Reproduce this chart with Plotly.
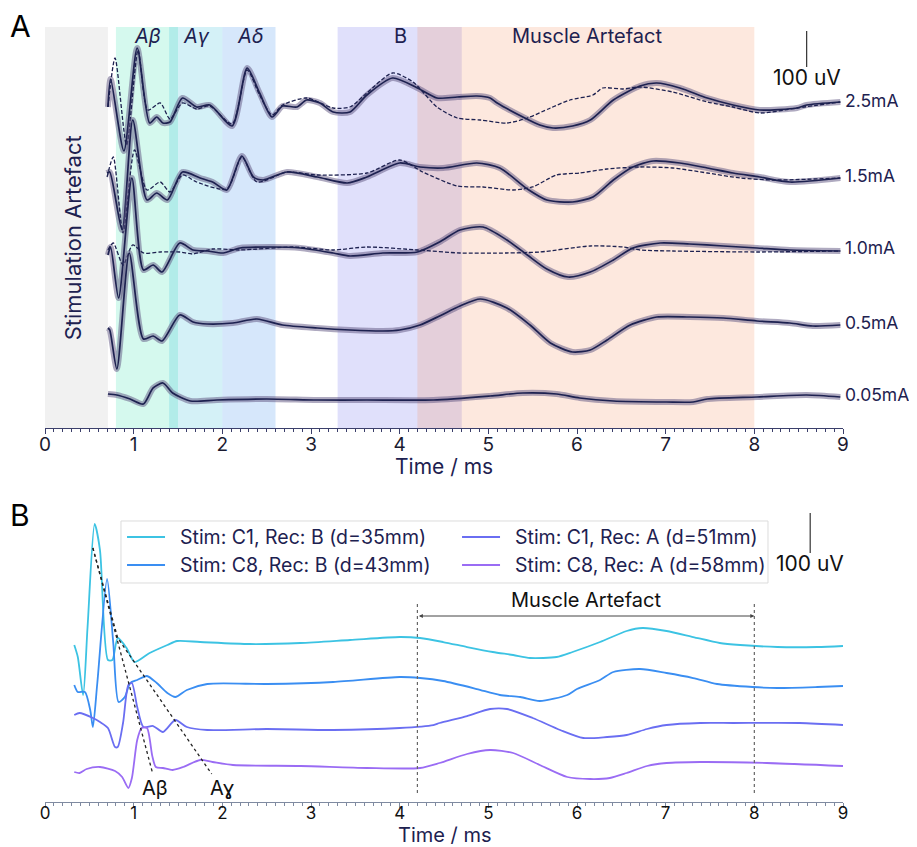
import plotly.graph_objects as go

# ---------------------------------------------------------
# Panel A data  (time in ms, amplitude in display units, 36 units = 100 uV)
# ---------------------------------------------------------
t_25 = [0.71, 0.74, 0.89, 1.04, 1.18, 1.26, 1.33, 1.41, 1.55, 1.71, 1.86, 2.11, 2.28, 2.42, 2.56, 2.68,
        2.84, 2.95, 3.10, 3.25, 3.44, 3.63, 3.92, 4.20, 4.42, 4.65, 4.87, 5.02, 5.10, 5.39, 5.58, 5.73,
        5.95, 6.15, 6.41, 6.71, 6.90, 7.16, 7.47, 7.76, 8.06, 8.48, 8.59, 8.97]
a_25 = [-5, 23, -49, 54, -21, -15, -21, -20, 4, -5, -3, -24, 34, 9, -15, -4,
        -5, 2, -1, -10, -10, 7, 24, 14, 4, 5, 6, 4, -1, -15, -23, -26,
        -24, -18, 2, 16, 19, 14, 4, -3, -8, -6, -3, 0]
t_25d = [0.71, 0.79, 0.92, 1.05, 1.16, 1.30, 1.41, 1.55, 1.71, 1.86, 2.11, 2.28, 2.42, 2.56, 2.68, 2.95,
         3.25, 3.44, 3.63, 3.92, 4.15, 4.42, 4.65, 4.91, 5.21, 5.44, 5.70, 5.92, 6.18, 6.29, 6.52, 6.71,
         7.08, 7.47, 7.76, 8.06, 8.48, 8.97]
a_25d = [-5, 44, -43, 52, -8, -1, -17, -1, -7, -4, -22, 32, 7, -13, -3, 4,
         -6, -5, 9, 29, 20, -5, -16, -18, -21, -16, -6, 2, 7, 14, 13, 15,
         10, 0, -5, -11, -6, 0]

t_15 = [0.70, 0.73, 0.87, 0.99, 1.15, 1.26, 1.38, 1.55, 1.75, 1.89, 2.05, 2.22, 2.35, 2.46, 2.73, 3.07,
        3.41, 3.63, 4.00, 4.23, 4.49, 4.87, 5.13, 5.44, 5.66, 5.95, 6.18, 6.41, 6.63, 6.86, 7.16, 7.47,
        7.76, 8.06, 8.40, 8.97]
a_15 = [5, 6, -52, 58, -22, -15, -22, 6, 0, -4, -12, 22, 1, -2, 6, 1,
        -5, 1, 15, 11, 10, 15, 10, -11, -22, -24, -19, -2, 11, 17, 15, 10,
        5, 1, -4, 0]
t_15d = [0.70, 0.77, 0.88, 1.01, 1.15, 1.30, 1.41, 1.55, 1.71, 2.05, 2.22, 2.39, 2.73, 3.07, 3.63, 4.00,
         4.26, 4.65, 4.94, 5.28, 5.50, 5.77, 6.03, 6.34, 6.71, 7.08, 7.47, 7.84, 8.21, 8.97]
a_15d = [1, 21, -55, 28, -12, -4, -14, 3, -4, -11, 21, -4, 6, 3, 5, 18,
         6, -8, -9, -12, -9, 3, 5, 9, 11, 10, 5, 0, -2, 0]

t_10 = [0.71, 0.74, 0.83, 0.98, 1.11, 1.22, 1.32, 1.52, 1.67, 1.83, 2.01, 2.20, 2.57, 2.88, 3.25, 3.44,
        3.81, 4.20, 4.45, 4.68, 4.94, 5.21, 5.44, 5.66, 5.90, 6.15, 6.41, 6.63, 6.94, 7.27, 7.65, 8.03,
        8.40, 8.97]
a_10 = [-4, 4, -47, 73, -19, -14, -21, 8, 1, 0, -2, 3, 4, 3, -2, -5,
        -2, -1, 9, 21, 24, 11, -4, -18, -26, -21, -9, 3, 8, 7, 5, 3,
        1, 0]
t_10d = [0.71, 0.77, 0.88, 0.99, 1.11, 1.30, 1.52, 1.67, 1.89, 2.20, 2.80, 3.25, 3.63, 4.20, 4.68, 5.21,
         5.58, 6.15, 6.52, 6.71, 7.08, 8.03, 8.97]
a_10d = [1, 8, -14, 6, -2, -1, -1, -3, 2, 1, 4, 1, 4, 1, -2, -2,
         -1, 5, 4, 1, 0, -1, 0]

t_05 = [0.71, 0.73, 0.81, 0.95, 1.11, 1.22, 1.32, 1.52, 1.67, 1.83, 2.12, 2.39, 2.68, 3.07, 3.44, 3.81,
        4.00, 4.23, 4.45, 4.68, 4.91, 5.21, 5.47, 5.70, 5.95, 6.15, 6.34, 6.60, 6.90, 7.27, 7.65, 8.03,
        8.40, 8.66, 8.97]
a_05 = [-2, -4, -43, 73, -13, -10, -15, 11, 4, 2, 3, 7, 1, -2, -4, -5,
        -4, 1, 10, 20, 27, 18, 1, -17, -26, -24, -14, 1, 9, 9, 8, 5,
        3, 0, 1]

t_005 = [0.71, 0.81, 0.96, 1.11, 1.22, 1.33, 1.44, 1.64, 1.94, 2.50, 3.07, 3.63, 4.38, 5.02, 5.39, 5.77,
         6.03, 6.41, 7.01, 7.31, 7.47, 8.03, 8.59, 8.97]
a_005 = [3, 2, -2, -7, 9, 14, 4, -4, -3, -2, -3, -3, -3, 1, 4, 3,
         -1, -4, -5, -5, -2, 0, 2, 0]

currents = ["2.5mA", "1.5mA", "1.0mA", "0.5mA", "0.05mA"]
solid_t = [t_25, t_15, t_10, t_05, t_005]
solid_a = [a_25, a_15, a_10, a_05, a_005]
dashed_t = [t_25d, t_15d, t_10d, None, None]
dashed_a = [a_25d, a_15d, a_10d, None, None]

# fibre / artefact windows (ms)
regions = [
    ("stim", 0.0, 0.71, "rgba(200,200,200,0.25)"),
    ("Aβ", 0.8, 1.5, "rgba(45,225,170,0.2)"),
    ("Aγ", 1.4, 2.0, "rgba(40,185,215,0.2)"),
    ("Aδ", 2.0, 2.6, "rgba(50,135,235,0.2)"),
    ("B", 3.3, 4.7, "rgba(100,100,235,0.2)"),
    ("Muscle", 4.2, 8.0, "rgba(245,140,90,0.2)"),
]

# ---------------------------------------------------------
# Panel B data
# ---------------------------------------------------------
b_names = ["Stim: C1, Rec: B (d=35mm)", "Stim: C8, Rec: B (d=43mm)",
           "Stim: C1, Rec: A (d=51mm)", "Stim: C8, Rec: A (d=58mm)"]
b_colors = ["#3cc3e3", "#3a8ef2", "#6a6ef2", "#9a6cf4"]

t_c1b = [0.33, 0.37, 0.43, 0.48, 0.56, 0.62, 0.71, 0.76, 0.82, 0.92, 1.01, 1.18, 1.38, 1.49, 1.75, 2.31,
         2.88, 3.44, 4.00, 4.23, 4.49, 4.76, 5.05, 5.28, 5.47, 5.77, 5.95, 6.26, 6.56, 6.74, 7.01, 7.31,
         7.61, 7.84, 8.26, 8.71, 9.00]
a_c1b = [1, -11, -49, 19, 122, 96, -14, -14, 8, -2, -16, -7, 1, 5, 4, 2,
         3, 6, 9, 8, 4, -1, -6, -9, -12, -11, -6, 4, 15, 18, 15, 9,
         3, 1, -1, -1, 0]

t_c8b = [0.33, 0.37, 0.45, 0.51, 0.54, 0.59, 0.70, 0.77, 0.83, 0.90, 0.96, 1.04, 1.15, 1.26, 1.38, 1.47,
         1.60, 1.83, 2.50, 3.25, 4.00, 4.23, 4.49, 4.87, 5.13, 5.36, 5.58, 5.89, 6.00, 6.26, 6.41, 6.71,
         7.01, 7.31, 7.58, 7.98, 8.26, 8.71, 9.00]
a_c8b = [1, -6, -6, -24, -41, 3, 107, 43, -16, -11, 3, 6, 10, 3, -7, -11,
         -4, 2, 2, 4, 9, 8, 5, -3, -9, -11, -15, -9, -3, 6, 14, 17,
         13, 8, 2, -1, -2, -1, 0]

t_c1a = [0.33, 0.39, 0.54, 0.62, 0.71, 0.79, 0.82, 0.88, 0.94, 0.98, 1.04, 1.11, 1.22, 1.33, 1.47, 1.60,
         1.83, 2.50, 3.25, 4.00, 4.38, 4.45, 4.76, 5.02, 5.21, 5.50, 5.81, 6.07, 6.34, 6.56, 6.79, 7.01,
         7.39, 7.76, 8.51, 9.00]
a_c1a = [10, 12, 7, 3, -3, -22, -22, 2, 40, 42, 18, -2, -1, -7, 5, -2,
         -5, -4, -5, -3, 0, 2, 9, 16, 16, 7, -5, -13, -12, -10, -4, 0,
         2, 2, 2, 0]

t_c8a = [0.33, 0.39, 0.47, 0.62, 0.79, 0.87, 0.94, 0.98, 1.04, 1.09, 1.15, 1.21, 1.25, 1.33, 1.44, 1.56,
         1.75, 1.89, 2.12, 2.88, 3.63, 4.23, 4.45, 4.76, 5.02, 5.28, 5.58, 5.89, 6.15, 6.37, 6.56, 6.79,
         7.01, 7.39, 8.14, 9.00]
a_c8a = [-6, -7, -3, -1, -5, -11, -22, -12, 26, 38, 38, 10, -1, -2, -4, -1,
         6, 4, 1, 0, -2, -2, 3, 12, 16, 13, 1, -11, -13, -12, -7, 0,
         3, 4, 3, 0]

b_t = [t_c1b, t_c8b, t_c1a, t_c8a]
b_a = [a_c1b, a_c8b, a_c1a, a_c8a]

# conduction-velocity guide lines (ms, display units)
ab_x = [0.54, 1.21]
ab_y = [254, 30]
ag_x = [0.54, 0.82, 1.88]
ag_y = [254, 164, 28]

# ---------------------------------------------------------
# Style
# ---------------------------------------------------------
NAVY = "#1d2150"
FONT = "Inter"
offsets_a = [326, 250, 177, 102, 31]
offsets_b = [156, 116, 77, 36]
SMOOTH = dict(shape="spline", smoothing=0.7)

fig = go.Figure()

# Panel A traces
for i, name in enumerate(currents):
    y = [offsets_a[i] + v for v in solid_a[i]]
    fig.add_trace(go.Scatter(x=solid_t[i], y=y, mode="lines", xaxis="x", yaxis="y",
                             line=dict(color="rgba(95,85,130,0.5)", width=6, **SMOOTH),
                             showlegend=False, hoverinfo="skip"))
    if dashed_t[i] is not None:
        yd = [offsets_a[i] + v for v in dashed_a[i]]
        fig.add_trace(go.Scatter(x=dashed_t[i], y=yd, mode="lines", xaxis="x", yaxis="y",
                                 line=dict(color=NAVY, width=1.3, dash="4px,2px", **SMOOTH),
                                 showlegend=False))
    fig.add_trace(go.Scatter(x=solid_t[i], y=y, mode="lines", xaxis="x", yaxis="y",
                             line=dict(color=NAVY, width=1.7, **SMOOTH),
                             name=name, showlegend=False))

# Panel B traces
for i, name in enumerate(b_names):
    y = [offsets_b[i] + v for v in b_a[i]]
    fig.add_trace(go.Scatter(x=b_t[i], y=y, mode="lines", xaxis="x2", yaxis="y2",
                             line=dict(color=b_colors[i], width=1.8, **SMOOTH),
                             name=name, showlegend=False))

for gx, gy in [(ab_x, ab_y), (ag_x, ag_y)]:
    fig.add_trace(go.Scatter(x=gx, y=gy, mode="lines", xaxis="x2", yaxis="y2",
                             line=dict(color="#222", width=1.3, dash="dot"),
                             showlegend=False, hoverinfo="skip"))

# ---------------------------------------------------------
# Shapes
# ---------------------------------------------------------
shapes = []
for _, x0, x1, col in regions:
    shapes.append(dict(type="rect", xref="x", yref="y domain", x0=x0, x1=x1, y0=0, y1=1,
                       fillcolor=col, line=dict(width=0), layer="below"))

# scale bars
shapes.append(dict(type="line", xref="x", yref="y", x0=8.59, x1=8.59, y0=361, y1=397,
                   line=dict(color="#333", width=1.2)))
shapes.append(dict(type="line", xref="x2", yref="y2", x0=8.63, x1=8.63, y0=249, y1=289,
                   line=dict(color="#333", width=1.2)))

# muscle artefact markers (panel B)
for xv in [4.2, 8.0]:
    shapes.append(dict(type="line", xref="x2", yref="y2", x0=xv, x1=xv, y0=9, y1=200,
                       line=dict(color="#666", width=1.2, dash="dot")))

# ---------------------------------------------------------
# Annotations
# ---------------------------------------------------------
ann = []
label_y = [328, 252, 180, 105, 33]
for i, name in enumerate(currents):
    ann.append(dict(x=9.0, y=label_y[i], xref="x", yref="y", text=name, showarrow=False,
                    xanchor="left", xshift=0, font=dict(size=17.5, color=NAVY)))

for txt, xv, italic in [("Aβ", 1.16, True), ("Aγ", 1.71, True), ("Aδ", 2.31, True),
                        ("B", 4.01, False), ("Muscle Artefact", 6.11, False)]:
    ann.append(dict(x=xv, y=392, xref="x", yref="y",
                    text=f"<i>{txt}</i>" if italic else txt, showarrow=False,
                    font=dict(size=20, color=NAVY)))

ann.append(dict(x=0.32, y=190, xref="x", yref="y", text="Stimulation Artefact", textangle=-90,
                showarrow=False, font=dict(size=22, color=NAVY)))

ann.append(dict(x=8.59, y=351, xref="x", yref="y", text="100 uV", showarrow=False,
                font=dict(size=21, color="#111")))
ann.append(dict(x=8.63, y=239, xref="x2", yref="y2", text="100 uV", showarrow=False,
                font=dict(size=21, color="#111")))

ann.append(dict(x=1.24, y=14, xref="x2", yref="y2", text="Aβ", showarrow=False,
                font=dict(size=20, color="#111")))
ann.append(dict(x=2.0, y=14, xref="x2", yref="y2", text="Aɣ", showarrow=False,
                font=dict(size=20, color="#111")))

ann.append(dict(x=8.0, y=186, ax=4.2, ay=186, xref="x2", yref="y2", axref="x2", ayref="y2",
                text="", showarrow=True, arrowhead=2, arrowside="end+start", arrowsize=0.8,
                arrowwidth=1, arrowcolor="#444"))
ann.append(dict(x=6.1, y=202, xref="x2", yref="y2", text="Muscle Artefact", showarrow=False,
                font=dict(size=20, color="#111")))

# axis titles and panel letters
ann.append(dict(x=0.5, y=0.4335, xref="paper", yref="paper", text="Time / ms", showarrow=False,
                yanchor="middle", font=dict(size=21, color=NAVY)))
ann.append(dict(x=0.5, y=-0.0425, xref="paper", yref="paper", text="Time / ms", showarrow=False,
                yanchor="middle", font=dict(size=20, color=NAVY)))
ann.append(dict(x=-0.031, y=1.001, xref="paper", yref="paper", text="A", showarrow=False,
                xanchor="center", yanchor="middle", font=dict(size=30, color="#000")))
ann.append(dict(x=-0.031, y=0.370, xref="paper", yref="paper", text="B", showarrow=False,
                xanchor="center", yanchor="middle", font=dict(size=30, color="#000")))

# legend for panel B (two columns, filled column by column)
shapes.append(dict(type="rect", xref="paper", yref="paper", x0=0.0952, x1=0.906, y0=0.2826, y1=0.3626,
                   fillcolor="rgba(255,255,255,0.85)", line=dict(color="#dcdcdc", width=1)))
leg_col_x = [0.1028, 0.5226]
leg_row_y = [0.3419, 0.3058]
for i, name in enumerate(b_names):
    cx = leg_col_x[i // 2]
    ry = leg_row_y[i % 2]
    shapes.append(dict(type="line", xref="paper", yref="paper", x0=cx, x1=cx + 0.0476, y0=ry, y1=ry,
                       line=dict(color=b_colors[i], width=2)))
    ann.append(dict(x=cx + 0.064, y=ry, xref="paper", yref="paper", text=name, showarrow=False,
                    xanchor="left", yanchor="middle", font=dict(size=19.5, color=NAVY)))

xaxis_common = dict(range=[0, 9], dtick=1, ticks="outside", ticklen=5, tickwidth=1,
                    showline=True, linewidth=1.2, showgrid=False, zeroline=False,
                    minor=dict(dtick=0.1, ticks="outside", ticklen=3, tickwidth=1))

# page body adds 8px around the figure, so the figure is 8px smaller than the window
fig.update_layout(
    width=909, height=839,
    paper_bgcolor="white", plot_bgcolor="white",
    font=dict(family=FONT, color=NAVY),
    margin=dict(l=37, r=74, t=19, b=45),
    xaxis=dict(**xaxis_common, anchor="y", linecolor="#3b3f6b", tickcolor="#3b3f6b",
               ticklabelstandoff=-6, tickfont=dict(size=19, color="#1a1a30")),
    yaxis=dict(domain=[0.4826, 1.0], range=[0, 401], visible=False),
    xaxis2=dict(**xaxis_common, anchor="y2", linecolor="#7f8aa0", tickcolor="#7f8aa0",
                ticklabelstandoff=-10, tickfont=dict(size=17, color="#111")),
    yaxis2=dict(domain=[0.0, 0.3832], range=[0, 297], visible=False),
    shapes=shapes,
    annotations=ann,
    showlegend=False,
)

fig.write_html("out.html")
